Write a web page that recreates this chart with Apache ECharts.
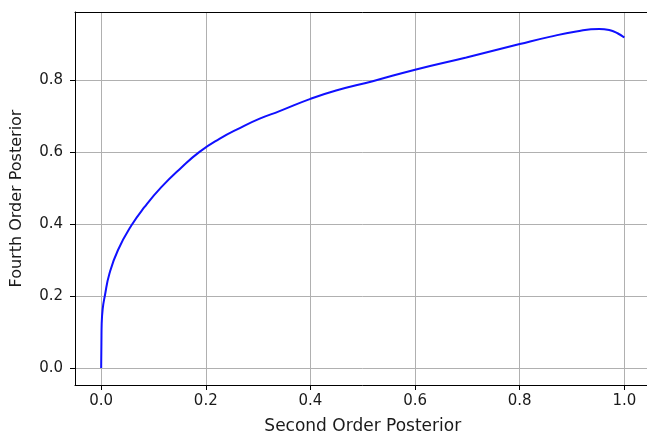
<!DOCTYPE html>
<html>
<head>
<meta charset="utf-8">
<script src="https://cdn.jsdelivr.net/npm/echarts@6/dist/echarts.min.js"></script>
<style>
html,body{margin:0;padding:0;background:#fff;overflow:hidden;}
#chart{width:660px;height:436px;}
</style>
</head>
<body>
<div id="chart"></div>
<script>
const xValues = [0, 0.0005, 0.001, 0.003, 0.0067, 0.016, 0.032, 0.058, 0.083, 0.115, 0.153, 0.188, 0.226, 0.265, 0.303, 0.341, 0.4, 0.449, 0.519, 0.6, 0.698, 0.8, 0.857, 0.908, 0.952, 0.971, 0.987, 1.0];
const yValues = [0, 0.07, 0.124, 0.165, 0.198, 0.263, 0.327, 0.396, 0.447, 0.502, 0.556, 0.600, 0.636, 0.666, 0.692, 0.713, 0.747, 0.770, 0.796, 0.828, 0.862, 0.899, 0.919, 0.934, 0.941, 0.938, 0.929, 0.917];
const xTicks = [0, 0.2, 0.4, 0.6, 0.8, 1.0];
const yTicks = [0, 0.2, 0.4, 0.6, 0.8];
const xLabel = 'Second Order Posterior';
const yLabel = 'Fourth Order Posterior';

const points = xValues.map((x, i) => [x, yValues[i]]);
const font = 'DejaVu Sans';
const chart = echarts.init(document.getElementById('chart'), null, {renderer: 'canvas'});
const axisCommon = {
  type: 'value',
  nameLocation: 'middle',
  nameTextStyle: {fontFamily: font, fontSize: 16.5, color: '#1a1a1a'},
  axisLine: {show: true, onZero: false, lineStyle: {color: '#000', width: 1}},
  axisTick: {show: true, inside: false, length: 5, lineStyle: {color: '#000', width: 1}},
  splitLine: {show: true, lineStyle: {color: '#b0b0b0', width: 1}},
  axisLabel: {fontFamily: font, fontSize: 15, color: '#1a1a1a', formatter: v => v.toFixed(1)}
};
chart.setOption({
  animation: false,
  backgroundColor: '#fff',
  grid: {left: 75, top: 12, width: 575.5, bottom: 51, show: false, containLabel: false, outerBoundsMode: 'none'},
  xAxis: [
    Object.assign({}, axisCommon, {
      name: xLabel, nameGap: 33, min: -0.05, max: 1.05,
      nameTextStyle: Object.assign({}, axisCommon.nameTextStyle, {fontSize: 17}),
      axisTick: Object.assign({}, axisCommon.axisTick, {customValues: xTicks}),
      axisLabel: Object.assign({}, axisCommon.axisLabel, {customValues: xTicks, margin: 9})
    }),
    {
      type: 'value', position: 'top', min: -0.05, max: 1.05,
      axisLine: {show: true, onZero: false, lineStyle: {color: '#000', width: 1}},
      axisTick: {show: false}, axisLabel: {show: false}, splitLine: {show: false}
    }
  ],
  yAxis: Object.assign({}, axisCommon, {
    name: yLabel, nameGap: 50, min: -0.047, max: 0.988,
    nameTextStyle: Object.assign({}, axisCommon.nameTextStyle, {fontSize: 16}),
    axisTick: Object.assign({}, axisCommon.axisTick, {customValues: yTicks}),
    axisLabel: Object.assign({}, axisCommon.axisLabel, {customValues: yTicks, margin: 12})
  }),
  series: [{
    type: 'line',
    data: points,
    xAxisIndex: 0,
    smooth: 0.5,
    showSymbol: false,
    lineStyle: {color: '#1010ff', width: 2},
    z: 5
  }]
});
</script>
</body>
</html>
